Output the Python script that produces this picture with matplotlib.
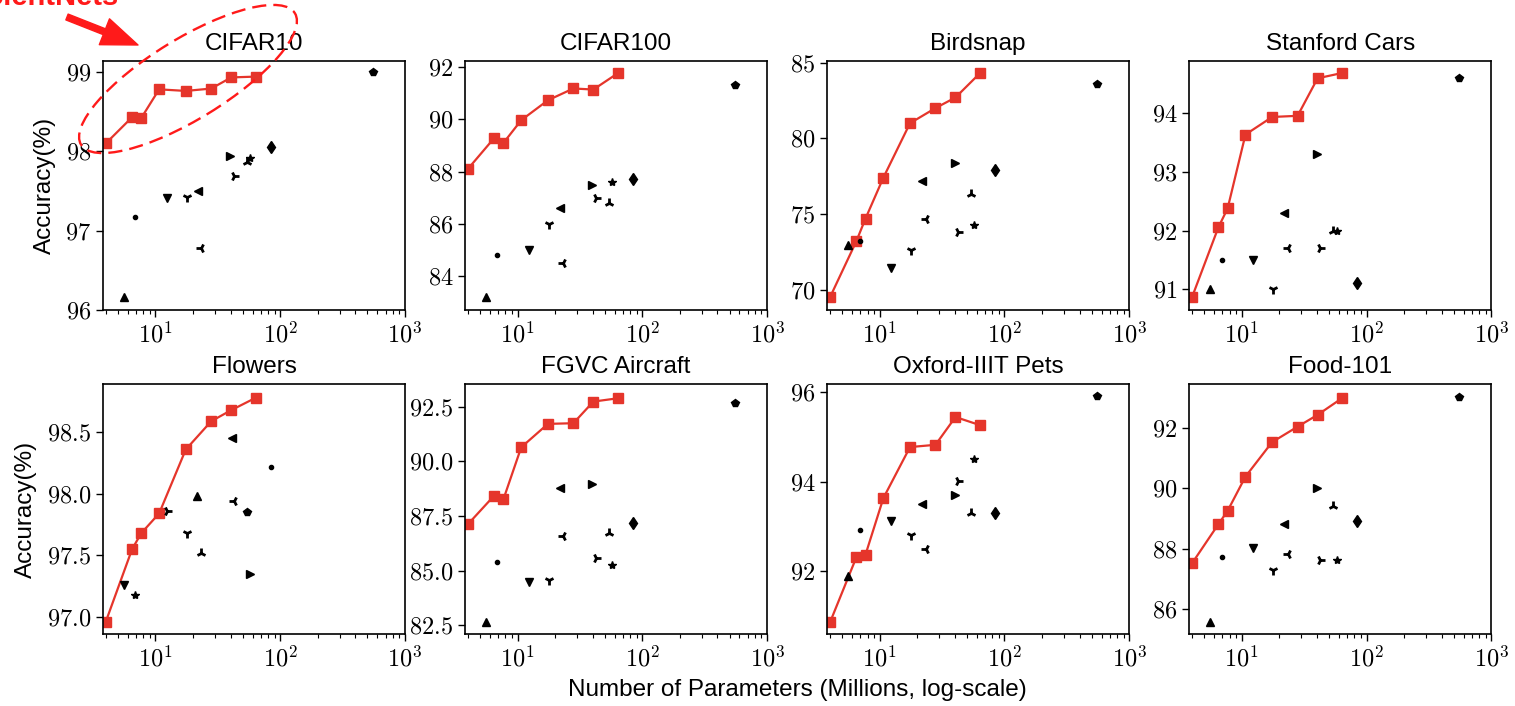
import matplotlib.pyplot as plt
from matplotlib.patches import Ellipse, FancyArrowPatch

plt.rcParams['font.family'] = ['Liberation Sans', 'DejaVu Sans']
plt.rcParams['mathtext.fontset'] = 'cm'

# number of parameters (millions)
effnet_params = [4.0, 6.5, 7.7, 10.7, 17.5, 28.0, 40.5, 63.5]
other_params = [5.6, 6.9, 12.4, 17.9, 21.8, 23.3, 39.8, 42.3, 54, 57.5, 84, 550]
flowers_params = [5.6, 6.9, 12.4, 17.9, 21.6, 23.3, 40.7, 42.3, 54, 57.5, 84]

other_markers = ['^', '.', 'v', '1', '<', '3', '>', '4', '2', '*', 'd', 'p']
flowers_markers = ['v', '*', '4', '1', '^', '2', '<', '3', 'p', '>', '.']

titles = ['CIFAR10', 'CIFAR100', 'Birdsnap', 'Stanford Cars',
          'Flowers', 'FGVC Aircraft', 'Oxford-IIIT Pets', 'Food-101']

cifar10_eff = [98.1, 98.43, 98.42, 98.78, 98.76, 98.79, 98.93, 98.94]
cifar10_other = [96.17, 97.18, 97.41, 97.42, 97.5, 96.78, 97.94, 97.69, 97.87, 97.92, 98.05, 99.0]

cifar100_eff = [88.1, 89.28, 89.09, 89.96, 90.72, 91.17, 91.13, 91.75]
cifar100_other = [83.2, 84.8, 85.0, 86.0, 86.6, 84.5, 87.5, 87.0, 86.8, 87.6, 87.7, 91.3]

birdsnap_eff = [69.5, 73.2, 74.7, 77.4, 81.0, 82.0, 82.7, 84.3]
birdsnap_other = [72.95, 73.2, 71.4, 72.6, 77.2, 74.7, 78.4, 73.8, 76.3, 74.3, 77.9, 83.6]

cars_eff = [90.87, 92.06, 92.38, 93.64, 93.94, 93.96, 94.6, 94.69]
cars_other = [91.0, 91.5, 91.5, 91.0, 92.3, 91.7, 93.3, 91.7, 92.0, 92.0, 91.1, 94.6]

flowers_eff = [96.96, 97.55, 97.68, 97.84, 98.36, 98.59, 98.68, 98.78]
flowers_other = [97.26, 97.18, 97.86, 97.68, 97.98, 97.52, 98.45, 97.94, 97.85, 97.35, 98.22]

aircraft_eff = [87.12, 88.43, 88.26, 90.64, 91.71, 91.74, 92.73, 92.88]
aircraft_other = [82.67, 85.38, 84.5, 84.57, 88.79, 86.58, 88.96, 85.56, 86.71, 85.26, 87.17, 92.68]

pets_eff = [90.86, 92.31, 92.37, 93.63, 94.77, 94.82, 95.44, 95.26]
pets_other = [91.89, 92.91, 93.11, 92.8, 93.51, 92.5, 93.71, 94.01, 93.3, 94.51, 93.3, 95.9]

food_eff = [87.52, 88.81, 89.25, 90.38, 91.52, 92.03, 92.42, 92.97]
food_other = [85.59, 87.71, 88.02, 87.3, 88.81, 87.82, 90.0, 87.61, 89.41, 87.61, 88.9, 93.0]

eff_values = [cifar10_eff, cifar100_eff, birdsnap_eff, cars_eff,
              flowers_eff, aircraft_eff, pets_eff, food_eff]
other_values = [cifar10_other, cifar100_other, birdsnap_other, cars_other,
                flowers_other, aircraft_other, pets_other, food_other]

y_limits = [(96.0, 99.14), (82.7, 92.23), (68.63, 85.13), (90.64, 94.9),
            (96.86, 98.89), (82.1, 93.52), (90.6, 96.17), (85.18, 93.43)]
y_ticks = [[96, 97, 98, 99], [84, 86, 88, 90, 92], [70, 75, 80, 85], [91, 92, 93, 94],
           [97.0, 97.5, 98.0, 98.5], [82.5, 85.0, 87.5, 90.0, 92.5], [92, 94, 96], [86, 88, 90, 92]]
y_decimals = [0, 0, 0, 0, 1, 1, 0, 0]

x_ticks = [10, 100, 1000]
x_tick_labels = [r'$10^{1}$', r'$10^{2}$', r'$10^{3}$']

red = '#e5352b'

fig, axes = plt.subplots(2, 4, figsize=(15.15, 7.06), dpi=100)
fig.subplots_adjust(left=0.068, right=0.9844, bottom=0.102, top=0.914,
                    wspace=0.199, hspace=0.296)

for i, ax in enumerate(axes.flat):
    ax.plot(effnet_params, eff_values[i], color=red, marker='s', markersize=6.5,
            linewidth=1.6, zorder=2)
    if i == 4:
        xs, mks = flowers_params, flowers_markers
    else:
        xs, mks = other_params, other_markers
    for x, y, m in zip(xs, other_values[i], mks):
        tri = m in ['1', '2', '3', '4']
        ax.plot([x], [y], marker=m, color='black', markersize=7 if tri else 6,
                markeredgewidth=2.0 if tri else 1.0, linestyle='none', zorder=3)
    ax.set_xscale('log')
    ax.set_xlim(3.8, 1000)
    ax.set_ylim(*y_limits[i])
    ax.set_xticks(x_ticks)
    ax.set_xticklabels(x_tick_labels)
    fmt = '{:.1f}' if y_decimals[i] else '{:.0f}'
    ax.set_yticks(y_ticks[i])
    ax.set_yticklabels(['$' + fmt.format(v) + '$' for v in y_ticks[i]])
    ax.tick_params(axis='both', which='major', labelsize=17.5, length=5, width=1)
    ax.tick_params(axis='x', which='minor', length=3, width=0.8)
    for s in ax.spines.values():
        s.set_linewidth(1.2)
    ax.set_title(titles[i], fontsize=17.5, pad=8)
    if i % 4 == 0:
        ax.set_ylabel('Accuracy(%)', fontsize=17.5, labelpad=7)

fig.text(0.526, 0.023, 'Number of Parameters (Millions, log-scale)',
         fontsize=17.5, ha='center', va='center')

# EfficientNets callout (cut off at the top edge, as in the source figure)
fig.text(118 / 1515, 1 - 5 / 706, 'EfficientNets', color='#ff1a1a', fontsize=21,
         fontweight='bold', ha='right', va='baseline')
arrow = FancyArrowPatch((67 / 1515, 1 - 17 / 706), (138 / 1515, 1 - 45 / 706),
                        transform=fig.transFigure, color='#ff1a1a',
                        arrowstyle='simple,head_width=2.0,head_length=2.6,tail_width=0.45',
                        mutation_scale=10, shrinkA=0, shrinkB=0)
fig.patches.append(arrow)
ell = Ellipse((1.88, 6.27), 2.51, 0.80, angle=31.6, transform=fig.dpi_scale_trans,
              fill=False, edgecolor='#ff1a1a', linewidth=1.7, linestyle=(0, (6, 3)))
fig.patches.append(ell)

fig.savefig('out.png', dpi=100)
